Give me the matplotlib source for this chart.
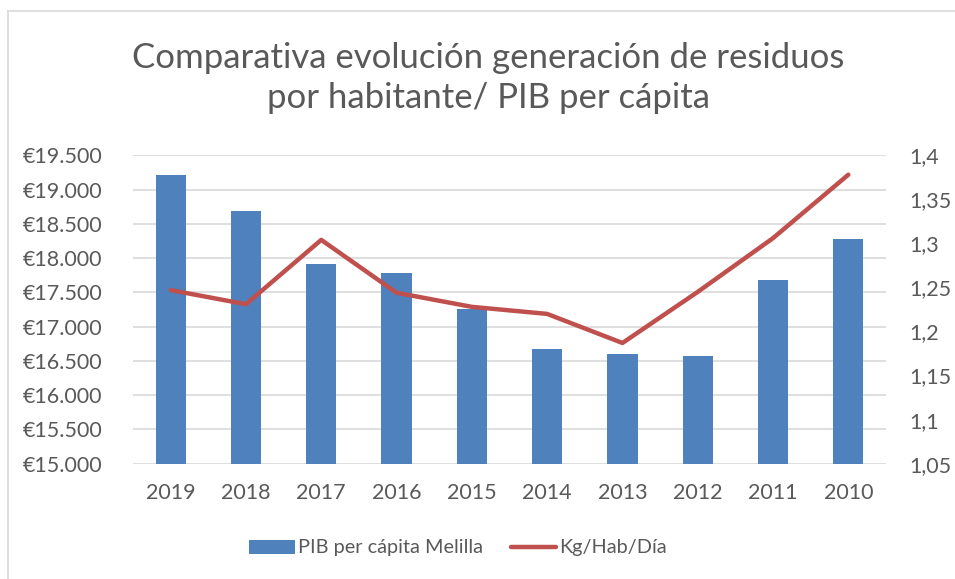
import matplotlib
matplotlib.use("Agg")
import matplotlib.pyplot as plt
from matplotlib.ticker import FuncFormatter, MultipleLocator
from matplotlib.lines import Line2D
from matplotlib.patches import Patch

years = ["2019", "2018", "2017", "2016", "2015", "2014", "2013", "2012", "2011", "2010"]
pib = [19208, 18692, 17918, 17778, 17253, 16674, 16605, 16567, 17676, 18279]
kg = [1.247, 1.231, 1.304, 1.244, 1.228, 1.220, 1.187, 1.245, 1.306, 1.378]

title = "Comparativa evolución generación de residuos\npor habitante/ PIB per cápita"
bar_label = "PIB per cápita Melilla"
line_label = "Kg/Hab/Día"

plt.rcParams['font.family'] = ['Lato', 'DejaVu Sans']
txt = "#595959"
W, H = 955, 579
fig = plt.figure(figsize=(W / 100, H / 100), dpi=100)
# chart border (left and top edges visible)
fig.lines.append(Line2D([8 / W, 8 / W], [0, 1 - 11 / H], transform=fig.transFigure,
                        color="#d9d9d9", linewidth=1.2))
fig.lines.append(Line2D([8 / W, 1], [1 - 11 / H, 1 - 11 / H], transform=fig.transFigure,
                        color="#d9d9d9", linewidth=1.2))

ax = fig.add_axes([133 / W, 1 - 463.7 / H, (886 - 133) / W, (463.7 - 155.3) / H])
x = range(len(years))
ax.bar(x, pib, width=0.4, color="#4f81bd", zorder=2)
ax.set_ylim(15000, 19500)
ax.set_xlim(-0.5, len(years) - 0.5)
ax.yaxis.set_major_locator(MultipleLocator(500))
ax.yaxis.set_major_formatter(FuncFormatter(lambda v, p: "€" + f"{int(v):,}".replace(",", ".")))
ax.grid(axis="y", color="#d9d9d9", linewidth=1.2, zorder=0)
ax.set_axisbelow(True)
ax.set_xticks(list(x))
ax.set_xticklabels(years)
for s in ax.spines.values():
    s.set_visible(False)
ax.tick_params(axis="both", length=0, colors=txt, labelsize=15.5)
ax.tick_params(axis="x", pad=14)
ax.tick_params(axis="y", pad=22)

ax2 = ax.twinx()
ax2.plot(list(x), kg, color="#c0504d", linewidth=3.2, solid_capstyle="round", solid_joinstyle="round", zorder=3)
ax2.set_ylim(1.05, 1.4)
ax2.yaxis.set_major_locator(MultipleLocator(0.05))
ax2.yaxis.set_major_formatter(FuncFormatter(lambda v, p: (f"{v:.2f}".rstrip("0").rstrip(".")).replace(".", ",")))
for s in ax2.spines.values():
    s.set_visible(False)
ax2.tick_params(axis="y", length=0, colors=txt, labelsize=15.5, pad=17)

fig.text(488 / W, 1 - 78 / H, title, ha="center", va="center", fontsize=25, color=txt, linespacing=1.3)

handles = [Patch(facecolor="#4f81bd", edgecolor="none"),
           Line2D([0], [0], color="#c0504d", linewidth=3.2, solid_capstyle="round")]
fig.legend(handles, [bar_label, line_label], loc="center", bbox_to_anchor=(458 / W, 1 - 548 / H),
           ncol=2, frameon=False, fontsize=14.3, labelcolor=txt, handlelength=2.3, handleheight=0.7,
           columnspacing=1.4, handletextpad=0.15)

fig.savefig("out.png", dpi=100)
